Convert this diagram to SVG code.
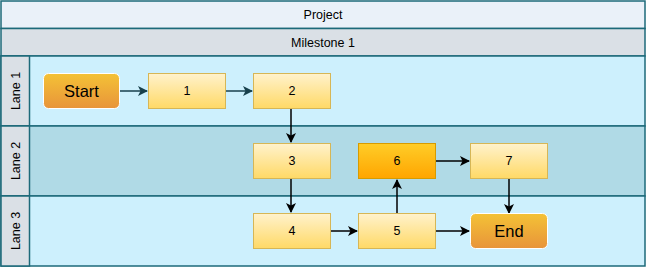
<svg xmlns="http://www.w3.org/2000/svg" width="647" height="268" viewBox="0 0 647 268">
<defs>
<linearGradient id="gY" x1="0" y1="0" x2="0" y2="1"><stop offset="0" stop-color="#fff2cc"/><stop offset="1" stop-color="#ffd966"/></linearGradient>
<linearGradient id="gO" x1="0" y1="0" x2="0" y2="1"><stop offset="0" stop-color="#f4c236"/><stop offset="1" stop-color="#e8943a"/></linearGradient>
<linearGradient id="g6" x1="0" y1="0" x2="0" y2="1"><stop offset="0" stop-color="#ffcd28"/><stop offset="1" stop-color="#ffa500"/></linearGradient>
<marker id="ab" viewBox="0 0 10 10" refX="9" refY="5" markerWidth="10" markerHeight="10" markerUnits="userSpaceOnUse" orient="auto"><path d="M0,0 L10,5 L0,10 L2.5,5 Z" fill="#000"/></marker>
<marker id="at" viewBox="0 0 10 10" refX="9" refY="5" markerWidth="10" markerHeight="10" markerUnits="userSpaceOnUse" orient="auto"><path d="M0,0 L10,5 L0,10 L2.5,5 Z" fill="#17404c"/></marker>
</defs>
<style>
.lane{stroke:#1c6a7a;stroke-width:1.5}
.t{font-family:"Liberation Sans",Arial,sans-serif;font-size:12.5px;fill:#000;text-anchor:middle;dominant-baseline:central}
.big{font-size:16.5px}
.n{fill:url(#gY);stroke:#d6b656;stroke-width:1}
.se{fill:url(#gO);stroke:#ffffff;stroke-width:1}
.c{fill:none;stroke:#000;stroke-width:1.5;marker-end:url(#ab)}
.ct{fill:none;stroke:#17404c;stroke-width:1.5;marker-end:url(#at)}
</style>
<g id="pool">
<rect class="lane" x="1" y="1" width="644" height="27.5" fill="#eaf1f9"/>
<text class="t" x="323" y="14.5">Project</text>
<rect class="lane" x="1" y="28.5" width="644" height="27.5" fill="#dae0e6"/>
<text class="t" x="323" y="42.5">Milestone 1</text>
</g>
<g id="lane1">
<rect class="lane" x="1" y="56" width="644" height="70" fill="#cdf0fd"/>
<rect class="lane" x="1" y="56" width="28.5" height="70" fill="#dae0e6"/>
<text class="t" transform="translate(15.5,91) rotate(-90)">Lane 1</text>
</g>
<g id="lane2">
<rect class="lane" x="1" y="126" width="644" height="70" fill="#b0dae6"/>
<rect class="lane" x="1" y="126" width="28.5" height="70" fill="#dae0e6"/>
<text class="t" transform="translate(15.5,161) rotate(-90)">Lane 2</text>
</g>
<g id="lane3">
<rect class="lane" x="1" y="196" width="644" height="70" fill="#cdf0fd"/>
<rect class="lane" x="1" y="196" width="28.5" height="70" fill="#dae0e6"/>
<text class="t" transform="translate(15.5,231) rotate(-90)">Lane 3</text>
</g>
<g id="connectors">
<path class="ct" d="M120,91 L147,91"/>
<path class="ct" d="M226,91 L252,91"/>
<path class="c" d="M291,109 L291,142"/>
<path class="c" d="M291,179 L291,212"/>
<path class="c" d="M331,231 L357,231"/>
<path class="c" d="M397,213 L397,180"/>
<path class="c" d="M436,161 L469,161"/>
<path class="c" d="M509,179 L509,213"/>
<path class="c" d="M436,231 L469,231"/>
</g>
<g id="start"><rect class="se" x="43.5" y="73.5" width="76" height="35" rx="5"/><text class="t big" x="81.5" y="91">Start</text></g>
<g id="n1"><rect class="n" x="148.5" y="73.5" width="77" height="35"/><text class="t" x="187" y="91">1</text></g>
<g id="n2"><rect class="n" x="253.5" y="73.5" width="77" height="35"/><text class="t" x="292" y="91">2</text></g>
<g id="n3"><rect class="n" x="253.5" y="143.5" width="77" height="35"/><text class="t" x="292" y="161">3</text></g>
<g id="n6"><rect x="358.5" y="143.5" width="77" height="35" fill="url(#g6)" stroke="#d79b00"/><text class="t" x="397" y="161">6</text></g>
<g id="n7"><rect class="n" x="470.5" y="143.5" width="77" height="35"/><text class="t" x="509" y="161">7</text></g>
<g id="n4"><rect class="n" x="253.5" y="213.5" width="77" height="35"/><text class="t" x="292" y="231">4</text></g>
<g id="n5"><rect class="n" x="358.5" y="213.5" width="77" height="35"/><text class="t" x="397" y="231">5</text></g>
<g id="end"><rect class="se" x="470.5" y="213.5" width="77" height="35" rx="5"/><text class="t big" x="509" y="231">End</text></g>
</svg>
